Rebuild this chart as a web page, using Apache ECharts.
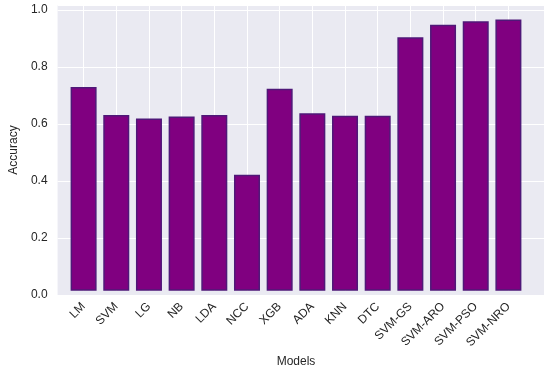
<!DOCTYPE html>
<html>
<head>
<meta charset="utf-8">
<script src="https://cdn.jsdelivr.net/npm/echarts@6/dist/echarts.min.js"></script>
<style>html,body{margin:0;padding:0;background:#fff;}#c{width:550px;height:373px;}</style>
</head>
<body>
<div id="c"></div>
<script>
const categories = ['LM','SVM','LG','NB','LDA','NCC','XGB','ADA','KNN','DTC','SVM-GS','SVM-ARO','SVM-PSO','SVM-NRO'];
const accuracy = [0.725,0.626,0.613,0.620,0.626,0.413,0.719,0.632,0.623,0.623,0.903,0.947,0.960,0.966];
const yTicks = [0.0,0.2,0.4,0.6,0.8,1.0];

const font = 'Liberation Sans, Arial, sans-serif';
const yMax = 1.0175;
const chart = echarts.init(document.getElementById('c'));
chart.setOption({
  animation: false,
  backgroundColor: '#ffffff',
  grid: [
    {left: 48, right: 6, top: 5, bottom: 78, show: true, backgroundColor: '#eaeaf2', borderWidth: 0, containLabel: false},
    {left: 83.6, right: 41.6, top: 5, bottom: 78, show: false, containLabel: false}
  ],
  xAxis: [
    {gridIndex: 0, type: 'value', min: 0, max: 1, show: false},
    {gridIndex: 1, type: 'category', data: categories, boundaryGap: false,
     axisLine: {show: false}, axisTick: {show: false},
     splitLine: {show: true, lineStyle: {color: '#ffffff', width: 1}},
     axisLabel: {rotate: 45, margin: 14, color: '#262626', fontSize: 12, fontFamily: font, interval: 0},
     name: 'Models', nameLocation: 'middle', nameGap: 65,
     nameTextStyle: {color: '#262626', fontSize: 12, fontFamily: font}}
  ],
  yAxis: [
    {gridIndex: 0, type: 'value', min: 0, max: yMax, interval: 0.2,
     axisLine: {show: false}, axisTick: {show: false},
     splitLine: {show: true, lineStyle: {color: '#ffffff', width: 1}},
     axisLabel: {margin: 10, color: '#262626', fontSize: 12, fontFamily: font,
       formatter: function (v) {
         for (const t of yTicks) { if (Math.abs(v - t) < 1e-6) return t.toFixed(1); }
         return '';
       }},
     name: 'Accuracy', nameLocation: 'middle', nameGap: 36, nameRotate: 90,
     nameTextStyle: {color: '#262626', fontSize: 12, fontFamily: font}},
    {gridIndex: 1, type: 'value', min: 0, max: yMax, show: false, splitLine: {show: false}}
  ],
  series: [{
    type: 'bar', xAxisIndex: 1, yAxisIndex: 1, data: accuracy, barWidth: 26, clip: false,
    itemStyle: {color: '#800080', borderColor: '#4f1878', borderWidth: 1.5}
  }]
});
</script>
</body>
</html>
